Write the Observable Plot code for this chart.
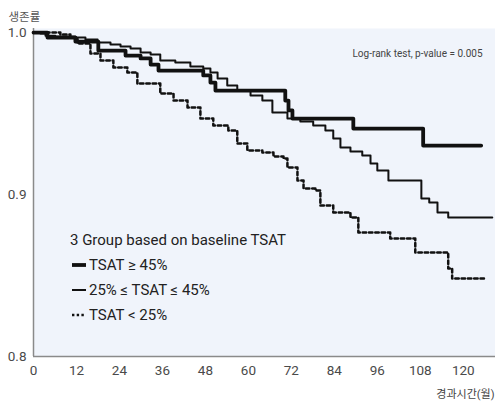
<!DOCTYPE html>
<html>
<head>
<meta charset="utf-8">
<script src="https://cdn.jsdelivr.net/npm/d3@7"></script>
<script src="https://cdn.jsdelivr.net/npm/@observablehq/plot@0.6"></script>
<style>
  body { margin: 0; background: #fff; }
  #wrap { position: relative; width: 495px; height: 410px; font-family: Roboto, "Noto Sans CJK KR", sans-serif; }
  #legend { position: absolute; left: 0; top: 0; width: 495px; height: 410px; pointer-events: none; }
  .lg { position: absolute; color: #222; font-size: 15px; white-space: nowrap; line-height: 18px; }
</style>
</head>
<body>
<div id="wrap"></div>
<script>
// Kaplan-Meier step data (months, survival)
const highMonths = [0, 3.9, 11.7, 18.1, 25.7, 29.9, 32.7, 34.9, 47.4, 49.4, 50.8, 70.3, 71.2, 72.3, 89.3, 108.8, 125.0];
const highSurv   = [1.000, 0.9969, 0.9944, 0.9889, 0.9858, 0.9840, 0.9802, 0.9765, 0.9735, 0.9691, 0.9642, 0.9580, 0.9519, 0.9469, 0.9407, 0.9302, 0.9302];

const midMonths = [0, 1.95, 3.35, 6.1, 11.7, 14.5, 17.9, 21.5, 24.3, 27.1, 29.9, 32.7, 35.4, 39.6, 43.8, 47.4, 49.4, 51.4, 54.1, 56.9, 60.6, 63.9, 66.7, 70.9, 74.5, 78.1, 81.5, 83.7, 85.7, 88.5, 91.8, 94.1, 96.0, 99.1, 108.3, 110.5, 112.8, 115.8, 128.1];
const midSurv   = [1.000, 0.9994, 0.9981, 0.9975, 0.9969, 0.9957, 0.9938, 0.9926, 0.9914, 0.9901, 0.9877, 0.9864, 0.9827, 0.9815, 0.9790, 0.9778, 0.9753, 0.9716, 0.9673, 0.9642, 0.9611, 0.9580, 0.9506, 0.9469, 0.9451, 0.9426, 0.9395, 0.9346, 0.9290, 0.9265, 0.9241, 0.9191, 0.9148, 0.9086, 0.8975, 0.8951, 0.8889, 0.8858, 0.8858];

const lowMonths = [0, 7.5, 10.3, 12.3, 15.9, 18.7, 22.3, 26.2, 29.0, 35.4, 39.1, 43.0, 46.6, 50.2, 54.4, 56.9, 59.7, 63.9, 67.0, 69.8, 70.9, 73.7, 75.4, 78.7, 80.1, 83.7, 88.5, 90.7, 99.6, 106.6, 115.8, 116.9, 126.2];
const lowSurv   = [1.000, 0.9988, 0.9969, 0.9932, 0.9870, 0.9827, 0.9784, 0.9753, 0.9685, 0.9623, 0.9580, 0.9537, 0.9469, 0.9426, 0.9395, 0.9315, 0.9272, 0.9259, 0.9235, 0.9222, 0.9167, 0.9086, 0.9037, 0.9025, 0.8932, 0.8889, 0.8858, 0.8765, 0.8728, 0.8642, 0.8543, 0.8481, 0.8481];

const xTicks = [0, 12, 24, 36, 48, 60, 72, 84, 96, 108, 120];
const yTicks = [0.8, 0.9, 1.0];
const legendTitle = "3 Group based on baseline TSAT";
const groupLabels = ["TSAT ≥ 45%", "25% ≤ TSAT ≤ 45%", "TSAT < 25%"];
const yLabel = "생존률";
const xLabel = "경과시간(월)";
const testLabel = "Log-rank test, p-value = 0.005";

const toRows = (ms, ss) => ms.map((m, i) => ({month: m, surv: ss[i]}));
const high = toRows(highMonths, highSurv);
const mid = toRows(midMonths, midSurv);
const low = toRows(lowMonths, lowSurv);

const ink = "#111";
const chart = Plot.plot({
  width: 495,
  height: 410,
  marginLeft: 33,
  marginRight: 0,
  marginTop: 28,
  marginBottom: 54,
  style: {fontFamily: "Roboto, 'Noto Sans CJK KR', sans-serif", fontSize: "13.5px", color: "#4a4a4a", background: "#fff"},
  x: {domain: [0, 129], ticks: xTicks, tickSize: 0, tickPadding: 9, label: null},
  y: {domain: [0.8, 1.0025], ticks: yTicks, tickFormat: ".1f", tickSize: 0, tickPadding: 7, label: null},
  marks: [
    Plot.frame({fill: "#f0f4fb", stroke: null}),
    Plot.ruleX([0], {stroke: "#8a8a8a", strokeWidth: 1.5}),
    Plot.ruleY([0.8], {stroke: "#8a8a8a", strokeWidth: 1.5}),
    Plot.line(low, {x: "month", y: "surv", curve: "step-after", stroke: ink, strokeWidth: 2.5, strokeDasharray: "3.5,2.8"}),
    Plot.line(mid, {x: "month", y: "surv", curve: "step-after", stroke: ink, strokeWidth: 2}),
    Plot.line(high, {x: "month", y: "surv", curve: "step-after", stroke: ink, strokeWidth: 3.8}),
    Plot.text([yLabel], {frameAnchor: "top-left", dx: -25, dy: -16, text: d => d, textAnchor: "start", fontSize: 11.5, fill: "#555"}),
    Plot.text([xLabel], {frameAnchor: "bottom-right", dx: -1, dy: 41, text: d => d, textAnchor: "end", fontSize: 11, fill: "#444"}),
    Plot.text([testLabel], {frameAnchor: "top-right", dx: -13, dy: 21, text: d => d, textAnchor: "end", fontSize: 10, fill: "#444"})
  ]
});
const wrap = document.getElementById("wrap");
wrap.appendChild(chart);

// Legend overlay
const lg = document.createElement("div");
lg.id = "legend";
const samples = [
  {w: 3.8, dash: null},
  {w: 2, dash: null},
  {w: 2.5, dash: "2.4,2.3"}
];
let html = `<div class="lg" style="left:70px; top:231px;">${legendTitle}</div>`;
let svg = `<svg width="495" height="410" style="position:absolute;left:0;top:0">`;
groupLabels.forEach((g, i) => {
  const cy = 265 + i * 25;
  html += `<div class="lg" style="left:89px; top:${cy - 9}px;">${g}</div>`;
  const s = samples[i];
  svg += `<line x1="72" x2="86" y1="${cy}" y2="${cy}" stroke="${ink}" stroke-width="${s.w}" ${s.dash ? `stroke-dasharray="${s.dash}"` : ""}/>`;
});
svg += `</svg>`;
lg.innerHTML = svg + html;
wrap.appendChild(lg);
</script>
</body>
</html>
